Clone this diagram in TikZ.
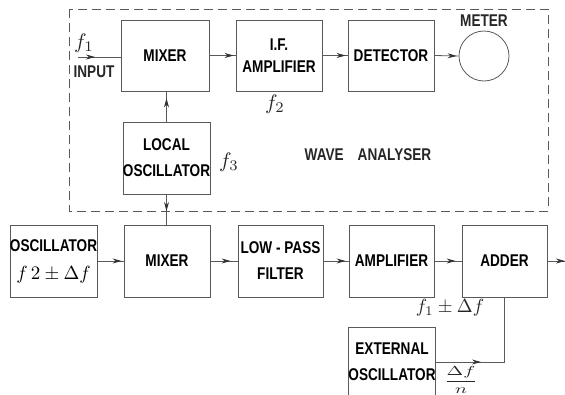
\documentclass[tikz,border=0pt]{standalone}
\usepackage{fontspec}
\setmainfont{Liberation Sans}[FakeStretch=0.8]
\usetikzlibrary{arrows.meta,decorations.markings}
\newcommand\boxfont{\fontsize{17}{26}\selectfont\bfseries}
\newcommand\mlab[2][2.1]{\scalebox{#1}{\fontsize{10}{12}\selectfont$#2$}}
\begin{document}
\begin{tikzpicture}[x=1pt,y=-1pt,
  box/.style={draw=black!65, line width=0.8pt, align=center, inner sep=0pt, font=\boxfont},
  conn/.style={draw=black!65, line width=0.8pt},
  tipat/.style={postaction={decorate},decoration={markings,mark=at position #1 with {\arrow[black!80]{Stealth[length=9pt,width=5pt]}}}},
  lbl/.style={font=\boxfont, inner sep=0pt, text=black!85}]
\useasboundingbox (0,0) rectangle (565,394);
\clip (0,0) rectangle (565,394);
% wave analyser frame
\draw[conn, dash pattern=on 9pt off 5pt] (69,9) rectangle (548,211);
% top row
\node[box, minimum width=88pt, minimum height=71pt] (mix1) at (165,55.5) {MIXER};
\node[box, minimum width=86pt, minimum height=71pt] (ifa) at (279,55.5) {I.F.\\[-4pt]AMPLIFIER};
\node[box, minimum width=86pt, minimum height=71pt] (det) at (391,55.5) {DETECTOR};
\node[draw=black!65, line width=0.8pt, circle, minimum size=50pt, inner sep=0pt] (met) at (484,56) {};
\node[box, minimum width=87pt, minimum height=72pt] (lo) at (166.5,158) {LOCAL\\OSCILLATOR};
% bottom row
\node[box, minimum width=85pt, minimum height=72pt] (osc) at (53.5,261) {OSCILLATOR\\[2pt]\mlab[1.9]{f\,2\pm\Delta f}};
\node[box, minimum width=86pt, minimum height=72pt] (mix2) at (167,261) {MIXER};
\node[box, minimum width=85pt, minimum height=72pt] (lpf) at (280.5,261) {LOW - PASS\\FILTER};
\node[box, minimum width=85pt, minimum height=72pt] (amp) at (391.5,261) {AMPLIFIER};
\node[box, minimum width=85pt, minimum height=72pt] (add) at (504.5,261) {ADDER};
\node[box, minimum width=86pt, minimum height=70pt] (ext) at (392,362) {EXTERNAL\\OSCILLATOR};
% labels
\node[lbl] (f1) at (84,43) {\mlab{f_1}};
\node[lbl] (inp) at (94,72) {INPUT};
\node[lbl] (metl) at (484,21) {METER};
\node[lbl] (f2) at (275,104) {\mlab{f_2}};
\node[lbl] (f3) at (229,162) {\mlab{f_3}};
\node[lbl] (wa) at (368,155) {WAVE\hspace{14pt}ANALYSER};
\node[lbl] (f1d) at (450,308) {\mlab[1.9]{f_1\pm\Delta f}};
\node[lbl, anchor=base] (dfn) at (461,384.5) {\scalebox{2}[1.3]{\fontsize{10}{12}\selectfont$\displaystyle\frac{\Delta f}{n}$}};
% connectors
\coordinate (in) at (78,57);
\coordinate (out) at (566,261);
\draw[conn, tipat=0.4] (in) -- (in -| mix1.west);
\draw[conn, tipat=-2pt] (mix1.east) -- (ifa.west);
\draw[conn, tipat=-2pt] (ifa.east) -- (det.west);
\draw[conn, tipat=-2pt] (det.east) -- (met.west);
\draw[conn, tipat=-7pt] (lo.north) -- (lo.north |- mix1.south);
\draw[conn, tipat=0.55] (lo.south) -- (lo.south |- mix2.north);
\draw[conn, tipat=-2pt] (osc.east) -- (mix2.west);
\draw[conn, tipat=-7pt] (mix2.east) -- (lpf.west);
\draw[conn, tipat=-3pt] (lpf.east) -- (amp.west);
\draw[conn, tipat=-6pt] (amp.east) -- (add.west);
\draw[conn, tipat=-1pt] (add.east) -- (out);
\draw[conn, tipat=45pt] (ext.east) -| (add.south);
\end{tikzpicture}
\end{document}
